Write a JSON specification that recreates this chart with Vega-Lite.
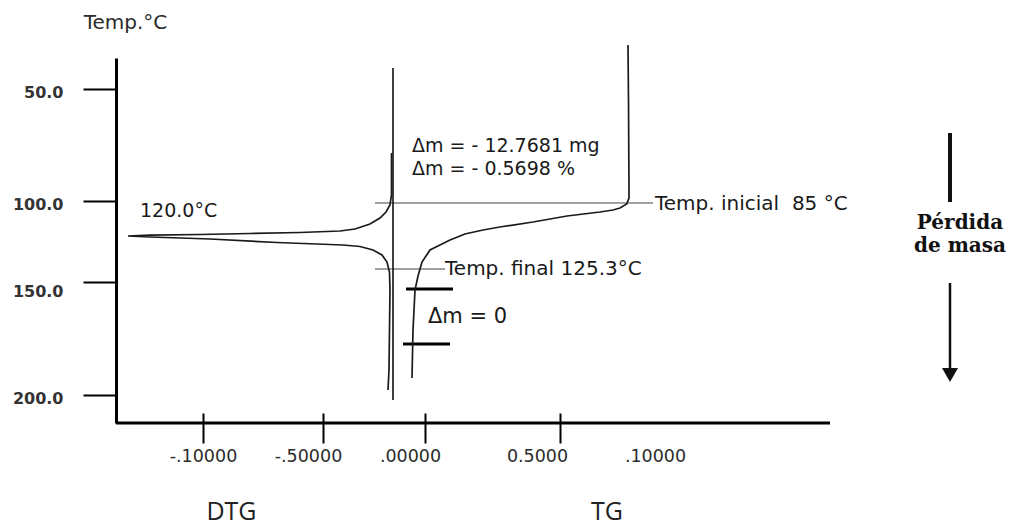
{
  "$schema": "https://vega.github.io/schema/vega-lite/v6.json",
  "autosize": {"type": "none"},
  "padding": {"left": 116, "top": 58, "right": 182, "bottom": 106},
  "width": 714,
  "height": 365,
  "background": "white",
  "config": {"view": {"stroke": null}, "font": "DejaVu Sans"},
  "encoding": {
    "x": {
      "field": "x", "type": "quantitative",
      "scale": {"domain": [-1.4, -1, -0.5, 0, 0.5, 1, 2], "range": [0, 87, 207, 309, 444, 539, 714], "nice": false, "zero": false},
      "axis": {
        "values": [-1, -0.5, 0, 0.5, 1],
        "labelExpr": "datum.value == -1 ? '-.10000' : datum.value == -0.5 ? '-.50000' : datum.value == 0 ? '.00000' : datum.value == 0.5 ? '0.5000' : '.10000'",
        "title": null, "domain": false, "offset": -10, "grid": false,
        "tickSize": 30, "tickWidth": 2, "tickColor": "black",
        "tickOpacity": {"condition": {"test": "datum.value == 1", "value": 0}, "value": 1},
        "labelFont": "DejaVu Sans", "labelFontSize": 17.5, "labelColor": "#2b2b2b", "labelPadding": 4,
        "labelFlush": false, "labelOverlap": false,
        "labelOffset": {"condition": [{"test": "datum.value == -0.5 || datum.value == 0", "value": -15}, {"test": "datum.value == 0.5", "value": -23}], "value": 0}
      }
    },
    "y": {
      "field": "t", "type": "quantitative",
      "scale": {"domain": [36, 50, 100, 150, 200, 212], "range": [0, 31, 143, 224, 337, 365], "nice": false, "zero": false},
      "axis": {
        "values": [50, 100, 150, 200],
        "labelExpr": "format(datum.value, '.1f')",
        "title": "Temp.°C", "titleAngle": 0, "titleX": 9, "titleY": -30, "titleAlign": "center", "titleBaseline": "alphabetic",
        "titleFont": "DejaVu Sans", "titleFontSize": 20, "titleFontWeight": "normal", "titleColor": "#2b2b2b",
        "grid": false, "domainColor": "black", "domainWidth": 3,
        "tickSize": 33, "tickWidth": 2, "tickColor": "black",
        "labelFont": "DejaVu Sans", "labelFontSize": 16, "labelFontWeight": "bold", "labelColor": "#333", "labelPadding": 20,
        "labelOffset": {"condition": {"test": "datum.value == 150", "value": 9}, "value": 3}
      }
    }
  },
  "layer": [
    {
      "data": {"values": [{"eje": "x", "x": -1.4, "x2": 2, "t": 212}]},
      "mark": {"type": "rule", "color": "black", "strokeWidth": 3},
      "encoding": {"x2": {"field": "x2"}}
    },
    {
      "data": {"values": [
        {"linea": "Temp. inicial", "x": -0.2451, "x2": 0.9895, "t": 101.23},
        {"linea": "Temp. final", "x": -0.2451, "x2": 0.0741, "t": 141.98}
      ]},
      "mark": {"type": "rule", "color": "#444", "strokeWidth": 1},
      "encoding": {"x2": {"field": "x2"}}
    },
    {
      "data": {"values": [
        {"marca": "inicio", "x": -0.0931, "x2": 0.1037, "t": 153.10},
        {"marca": "fin", "x": -0.1078, "x2": 0.0926, "t": 177.43}
      ]},
      "mark": {"type": "rule", "color": "black", "strokeWidth": 3},
      "encoding": {"x2": {"field": "x2"}}
    },
    {
      "data": {"values": [{"linea": "DTG cero", "x": -0.1569, "t": 40.5, "t2": 202.1}]},
      "mark": {"type": "rule", "color": "#111", "strokeWidth": 1.6},
      "encoding": {"y2": {"field": "t2"}}
    },
    {
      "data": {"values": [
        {"serie": "DTG", "seq": 1, "x": -0.1642, "t": 78.57},
        {"serie": "DTG", "seq": 2, "x": -0.1642, "t": 97.32},
        {"serie": "DTG", "seq": 3, "x": -0.1716, "t": 102.47},
        {"serie": "DTG", "seq": 4, "x": -0.1912, "t": 106.79},
        {"serie": "DTG", "seq": 5, "x": -0.2206, "t": 110.49},
        {"serie": "DTG", "seq": 6, "x": -0.2696, "t": 114.20},
        {"serie": "DTG", "seq": 7, "x": -0.3431, "t": 117.28},
        {"serie": "DTG", "seq": 8, "x": -0.4167, "t": 118.52},
        {"serie": "DTG", "seq": 9, "x": -0.5958, "t": 119.44},
        {"serie": "DTG", "seq": 10, "x": -0.8042, "t": 120.06},
        {"serie": "DTG", "seq": 11, "x": -1.0138, "t": 120.68},
        {"serie": "DTG", "seq": 12, "x": -1.2437, "t": 121.11},
        {"serie": "DTG", "seq": 13, "x": -1.3448, "t": 121.60},
        {"serie": "DTG", "seq": 14, "x": -1.2437, "t": 122.22},
        {"serie": "DTG", "seq": 15, "x": -0.9708, "t": 123.46},
        {"serie": "DTG", "seq": 16, "x": -0.6917, "t": 125.62},
        {"serie": "DTG", "seq": 17, "x": -0.4020, "t": 127.16},
        {"serie": "DTG", "seq": 18, "x": -0.3186, "t": 128.09},
        {"serie": "DTG", "seq": 19, "x": -0.2549, "t": 130.25},
        {"serie": "DTG", "seq": 20, "x": -0.2108, "t": 133.33},
        {"serie": "DTG", "seq": 21, "x": -0.1863, "t": 137.65},
        {"serie": "DTG", "seq": 22, "x": -0.1740, "t": 143.83},
        {"serie": "DTG", "seq": 23, "x": -0.1716, "t": 153.54},
        {"serie": "DTG", "seq": 24, "x": -0.1740, "t": 171.24},
        {"serie": "DTG", "seq": 25, "x": -0.1765, "t": 188.94},
        {"serie": "DTG", "seq": 26, "x": -0.1814, "t": 197.79},
        {"serie": "TG", "seq": 1, "x": 0.8579, "t": 30.13},
        {"serie": "TG", "seq": 2, "x": 0.8605, "t": 54.91},
        {"serie": "TG", "seq": 3, "x": 0.8632, "t": 95.09},
        {"serie": "TG", "seq": 4, "x": 0.8632, "t": 98.66},
        {"serie": "TG", "seq": 5, "x": 0.8511, "t": 101.85},
        {"serie": "TG", "seq": 6, "x": 0.8158, "t": 104.32},
        {"serie": "TG", "seq": 7, "x": 0.7789, "t": 105.56},
        {"serie": "TG", "seq": 8, "x": 0.7105, "t": 106.79},
        {"serie": "TG", "seq": 9, "x": 0.5368, "t": 109.26},
        {"serie": "TG", "seq": 10, "x": 0.4, "t": 112.96},
        {"serie": "TG", "seq": 11, "x": 0.2778, "t": 116.05},
        {"serie": "TG", "seq": 12, "x": 0.2148, "t": 117.90},
        {"serie": "TG", "seq": 13, "x": 0.1481, "t": 120.37},
        {"serie": "TG", "seq": 14, "x": 0.0926, "t": 124.07},
        {"serie": "TG", "seq": 15, "x": 0.0481, "t": 127.78},
        {"serie": "TG", "seq": 16, "x": 0.0185, "t": 130.25},
        {"serie": "TG", "seq": 17, "x": -0.0147, "t": 137.65},
        {"serie": "TG", "seq": 18, "x": -0.0343, "t": 146.30},
        {"serie": "TG", "seq": 19, "x": -0.0490, "t": 153.54},
        {"serie": "TG", "seq": 20, "x": -0.0588, "t": 171.24},
        {"serie": "TG", "seq": 21, "x": -0.0637, "t": 192.48}
      ]},
      "mark": {"type": "line", "color": "#1a1a1a", "strokeWidth": 1.7},
      "encoding": {"detail": {"field": "serie"}, "order": {"field": "seq", "type": "quantitative"}}
    },
    {
      "data": {"values": [
        {"label": "Temp. inicial\u00a0 85 °C", "x": 1.0, "t": 105.56},
        {"label": "Temp. final 125.3°C", "x": 0.0741, "t": 145.68}
      ]},
      "mark": {"type": "text", "align": "left", "baseline": "alphabetic", "font": "DejaVu Sans", "fontSize": 20, "color": "#1a1a1a"},
      "encoding": {"text": {"field": "label"}}
    },
    {
      "data": {"values": [
        {"label": "Δm = - 12.7681 mg", "x": -0.0637, "t": 78.13},
        {"label": "Δm = - 0.5698 %", "x": -0.0637, "t": 88.39},
        {"label": "120.0°C", "x": -1.2897, "t": 109.88}
      ]},
      "mark": {"type": "text", "align": "left", "baseline": "alphabetic", "font": "DejaVu Sans", "fontSize": 19, "color": "#1a1a1a"},
      "encoding": {"text": {"field": "label"}}
    },
    {
      "data": {"values": [{"label": "Δm = 0", "x": 0.0111, "t": 168.14}]},
      "mark": {"type": "text", "align": "left", "baseline": "alphabetic", "font": "DejaVu Sans", "fontSize": 21, "color": "#1a1a1a"},
      "encoding": {"text": {"field": "label"}}
    },
    {
      "data": {"values": [
        {"label": "DTG", "x": -0.8813, "t": 253.5},
        {"label": "TG", "x": 0.7474, "t": 253.5}
      ]},
      "mark": {"type": "text", "align": "center", "baseline": "alphabetic", "font": "Open Sans", "fontSize": 25, "color": "#222"},
      "encoding": {"text": {"field": "label"}}
    },
    {
      "data": {"values": [
        {"label": "Pérdida", "x": 2.7429, "t": 117.59},
        {"label": "de masa", "x": 2.7429, "t": 131.48}
      ]},
      "mark": {"type": "text", "align": "center", "baseline": "alphabetic", "font": "DejaVu Serif", "fontWeight": "bold", "fontSize": 20, "color": "#111"},
      "encoding": {"text": {"field": "label"}}
    },
    {
      "data": {"values": [{"tramo": "superior", "x": 2.6857, "t": 69.64, "t2": 100.62}]},
      "mark": {"type": "rule", "color": "#111", "strokeWidth": 4},
      "encoding": {"y2": {"field": "t2"}}
    },
    {
      "data": {"values": [{"tramo": "inferior", "x": 2.6857, "t": 150.44, "t2": 188.94}]},
      "mark": {"type": "rule", "color": "#111", "strokeWidth": 2.5},
      "encoding": {"y2": {"field": "t2"}}
    },
    {
      "data": {"values": [{"tramo": "punta", "x": 2.6857, "t": 191.15}]},
      "mark": {"type": "point", "shape": "triangle-down", "size": 256, "filled": true, "color": "#111", "opacity": 1}
    }
  ]
}
